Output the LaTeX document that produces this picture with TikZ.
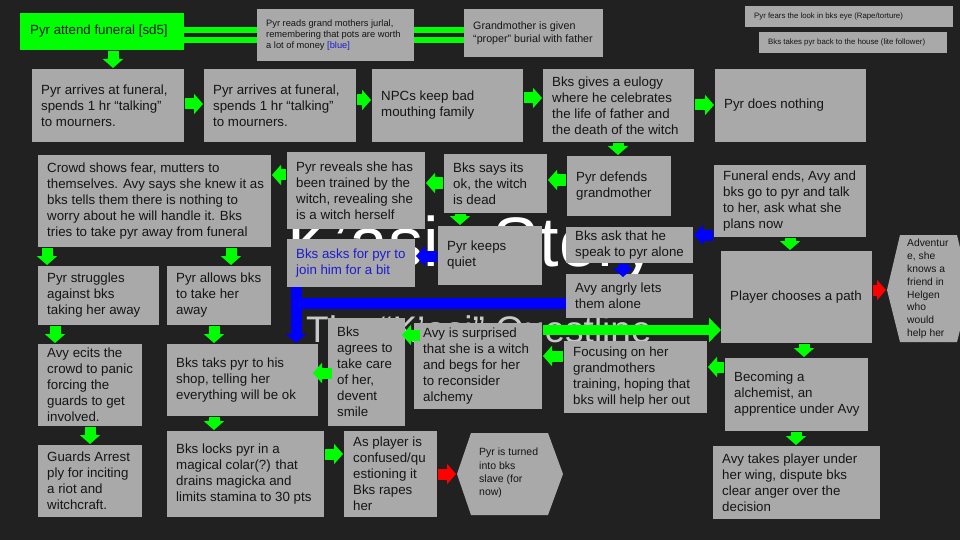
\documentclass[tikz,border=0pt]{standalone}
\usepackage{fontspec}
\setmainfont{Liberation Sans}
\usetikzlibrary{arrows.meta,calc}
\definecolor{bg}{HTML}{212121}
\definecolor{boxg}{HTML}{A9A9A9}
\definecolor{gr}{HTML}{00FF00}
\definecolor{bl}{HTML}{0000FF}
\definecolor{rd}{HTML}{FF0000}
\definecolor{txtc}{HTML}{151515}
\definecolor{bluetxt}{HTML}{1C1CD0}
\definecolor{subc}{HTML}{C8C8C8}
\tikzset{
  box/.style={fill=boxg, draw=none, inner sep=0pt, outer sep=0pt},
  txt/.style={inner sep=0pt, align=left, text=txtc, font=\fontsize{13.3}{16}\selectfont},
  smalla/.style={font=\fontsize{9.3}{10.7}\selectfont},
  smallb/.style={font=\fontsize{10.7}{13}\selectfont},
  tiny/.style={font=\fontsize{7.8}{9}\selectfont},
  hextxt/.style={inner sep=0pt, align=left, text=txtc, font=\fontsize{10.3}{12.8}\selectfont},
  barr/.style={line width=11pt, shorten <=1pt, shorten >=1pt, -{Triangle[width=20pt,length=9pt]}},
  garr/.style={barr, draw=gr},
  blarr/.style={barr, draw=bl},
  rarr/.style={barr, draw=rd},
  dbl/.style={draw=gr, line width=6pt, double=bg, double distance=4pt},
}
% [text opts]{x1}{y1}{x2}{y2}{name}{text}
\newcommand\bx[7][]{%
  \pgfmathsetmacro\bw{#4-#2}\pgfmathsetmacro\bh{#5-#3}%
  \node[box, minimum width=\bw pt, minimum height=\bh pt, anchor=north west] (#6) at (#2,#3) {};
  \node[txt, anchor=west, #1] (#6t) at ([xshift=9pt]#6.west) {#7};}
\begin{document}
\begin{tikzpicture}[x=1pt,y=-1pt]
\useasboundingbox (0,0) rectangle (960,540);
\clip (0,0) rectangle (960,540);
\fill[bg] (0,0) rectangle (960,540);
% background slide title
\node[anchor=base west, inner sep=0pt, text=white, font=\fontsize{70}{76}\selectfont] (title) at (287,266) {K’asi\hspace{54pt}Story};
\node[anchor=base west, inner sep=0pt, text=subc, font=\fontsize{37}{40}\selectfont] (subtitle) at (306,342) {The “K’asi” Questline};

% top row
\node[box, fill=gr, minimum width=164pt, minimum height=37pt, anchor=north west] (b1) at (20,13) {};
\node[txt, anchor=west] (b1t) at ([xshift=10pt]b1.west) {Pyr attend funeral [sd5]};
\bx[smalla]{257}{9}{414}{61}{b3}{Pyr reads grand mothers jurlal,\\remembering that pots are worth\\a lot of money {\color{bluetxt}[blue]}}
\bx[smallb]{464}{9}{603}{57}{b5}{Grandmother is given\\“proper” burial with father}
\bx[tiny]{745}{6}{953}{27}{b6}{Pyr fears the look in bks eye (Rape/torture)}
\bx[tiny]{759}{32}{947}{53}{b7}{Bks takes pyr back to the house (lite follower)}

% row 2
\bx{32}{69}{184}{142}{b8}{Pyr arrives at funeral,\\spends 1 hr “talking”\\to mourners.}
\bx{204}{69}{356}{142}{b9}{Pyr arrives at funeral,\\spends 1 hr “talking”\\to mourners.}
\bx{372}{69}{523}{142}{b10}{NPCs keep bad\\mouthing family}
\bx{543}{69}{694}{142}{b11}{Bks gives a eulogy\\where he celebrates\\the life of father and\\the death of the witch}
\bx{715}{69}{866}{142}{b12}{Pyr does nothing}

% row 3
\bx{38}{155}{271}{247}{b13}{Crowd shows fear, mutters to\\themselves. Avy says she knew it as\\bks tells them there is nothing to\\worry about he will handle it. Bks\\tries to take pyr away from funeral}
\bx{287}{152}{425}{229}{b14}{Pyr reveals she has\\been trained by the\\witch, revealing she\\is a witch herself}
\bx{444}{154}{547}{213}{b15}{Bks says its\\ok, the witch\\is dead}
\bx{567}{156}{671}{216}{b16}{Pyr defends\\grandmother}
\bx{714}{165}{866}{237}{b17}{Funeral ends, Avy and\\bks go to pyr and talk\\to her, ask what she\\plans now}

% row 4
\bx{38}{266}{159}{325}{b18}{Pyr struggles\\against bks\\taking her away}
\bx{167}{266}{271}{325}{b19}{Pyr allows bks\\to take her\\away}
\bx[text=bluetxt]{287}{239}{415}{287}{b20}{Bks asks for pyr to\\join him for a bit}
\bx{438}{226}{542}{285}{b21}{Pyr keeps\\quiet}
\bx{566}{227}{693}{263}{b22}{Bks ask that he\\speak to pyr alone}
\bx{566}{274}{693}{318}{b23}{Avy angrly lets\\them alone}
\bx{721}{251}{872}{343}{b24}{Player chooses a path}
\fill[boxg] (887,290) -- (900,235) -- (957,235) -- (970,290) -- (957,342) -- (900,342) -- cycle;
\coordinate (hex1w) at (887,290);
\node[hextxt, anchor=west] (hex1t) at (907,289) {Adventur\\e, she\\knows a\\friend in\\Helgen\\who\\would\\help her};

% lower rows
\bx{38}{344}{142}{426}{b25}{Avy ecits the\\crowd to panic\\forcing the\\guards to get\\involved.}
\bx{38}{445}{142}{517}{b26}{Guards Arrest\\ply for inciting\\a riot and\\witchcraft.}
\bx{167}{344}{318}{416}{b27}{Bks taks pyr to his\\shop, telling her\\everything will be ok}
\bx{167}{431}{324}{517}{b28}{Bks locks pyr in a\\magical colar(?) that\\drains magicka and\\limits stamina to 30 pts}
\bx{328}{318}{405}{426}{b29}{Bks\\agrees to\\take care\\of her,\\devent\\smile}
\bx{344}{431}{437}{517}{b30}{As player is\\confused/qu\\estioning it\\Bks rapes\\her}
\fill[boxg] (457,474) -- (471,433) -- (548,433) -- (563,474) -- (548,515) -- (471,515) -- cycle;
\coordinate (hex2w) at (457,474);
\node[hextxt, anchor=west, font=\fontsize{10.5}{13.3}\selectfont] (hex2t) at (479,473) {Pyr is turned\\into bks\\slave (for\\now)};
\bx{414}{323}{542}{409}{b31}{Avy is surprised\\that she is a witch\\and begs for her\\to reconsider\\alchemy}
\bx{564}{341}{707}{413}{b32}{Focusing on her\\grandmothers\\training, hoping that\\bks will help her out}
\bx{725}{358}{868}{431}{b33}{Becoming a\\alchemist, an\\apprentice under Avy}
\bx{713}{446}{880}{519}{b34}{Avy takes player under\\her wing, dispute bks\\clear anger over the\\decision}

% double green links
\draw[dbl] (b1.east |- 0,35) -- (b3.west |- 0,35);
\draw[dbl] (b3.east |- 0,35) -- (b5.west |- 0,35);

% green arrows
\draw[garr] (113,0 |- b1.south) -- (113,0 |- b8.north);
\draw[garr] (b8.east |- 0,104) -- (b9.west |- 0,104);
\draw[garr] (b9.east |- 0,100) -- (b10.west |- 0,100);
\draw[garr] (b10.east |- 0,98) -- (b11.west |- 0,98);
\draw[garr] (b11.east |- 0,105) -- (b12.west |- 0,105);
\draw[garr] (618,0 |- b11.south) -- (618,0 |- b16.north);
\draw[garr] (b16.west |- 0,180) -- (b15.east |- 0,180);
\draw[garr] (b15.west |- 0,183) -- (b14.east |- 0,183);
\draw[garr] (b14.west |- 0,175) -- (b13.east |- 0,175);
\draw[garr] (47,0 |- b13.south) -- (47,0 |- b18.north);
\draw[garr] (231,0 |- b13.south) -- (231,0 |- b19.north);
\draw[garr] (460,0 |- b15.south) -- (460,0 |- b21.north);
\draw[garr] (790,0 |- b17.south) -- (790,0 |- b24.north);
\draw[garr] (55,0 |- b18.south) -- (55,0 |- b25.north);
\draw[garr] (214,0 |- b19.south) -- (214,0 |- b27.north);
\draw[garr] (90,0 |- b25.south) -- (90,0 |- b26.north);
\draw[garr] (214,0 |- b27.south) -- (214,0 |- b28.north);
\draw[garr, shorten <=-4pt, shorten >=-5pt] (b29.west |- 0,373) -- (b27.east |- 0,373);
\draw[garr] (b28.east |- 0,454) -- (b30.west |- 0,454);
\draw[garr, shorten <=-6pt, shorten >=-3pt] (b31.west |- 0,335) -- (b29.east |- 0,335);
\draw[garr] (b32.west |- 0,356) -- (b31.east |- 0,356);
\draw[garr] (b33.west |- 0,367) -- (b32.east |- 0,367);
\draw[garr] (804,0 |- b24.south) -- (804,0 |- b33.north);
\draw[garr] (796,0 |- b33.south) -- (796,0 |- b34.north);
\draw[draw=gr, line width=10pt, shorten <=1pt, -{Triangle[width=24pt,length=12pt]}] (b31.east |- 0,330) -- (b24.west |- 0,330);

% blue connectors
\coordinate (bcorner) at (296,303);
\draw[draw=bl, line width=11pt] (b23.west |- bcorner) -- (bcorner);
\draw[blarr, shorten <=0pt] (bcorner |- b20.south) -- (bcorner |- b27.north);
\draw[blarr] (b17.west |- 0,235) -- (b22.east |- 0,235);
\draw[blarr, shorten >=-3pt] (623,0 |- b22.south) -- (623,0 |- b23.north);
\draw[blarr] (b21.west |- 0,256) -- (b20.east |- 0,256);

% red arrows
\draw[rarr] (b24.east |- hex1w) -- (hex1w);
\draw[rarr] (b30.east |- hex2w) -- (hex2w);
\end{tikzpicture}
\end{document}
